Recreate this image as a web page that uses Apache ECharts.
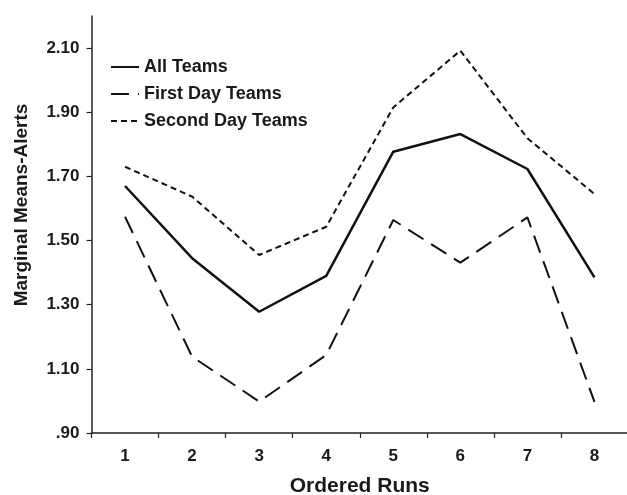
<!DOCTYPE html>
<html>
<head>
<meta charset="utf-8">
<script src="https://cdn.jsdelivr.net/npm/echarts@6/dist/echarts.min.js"></script>
<style>
html,body{margin:0;padding:0;background:#fff;}
#chart{width:627px;height:495px;}
</style>
</head>
<body>
<div id="chart"></div>
<script>
var categories = ['1','2','3','4','5','6','7','8'];
var allTeams = [1.67, 1.445, 1.278, 1.39, 1.777, 1.832, 1.723, 1.385];
var firstDay = [1.574, 1.138, 0.998, 1.143, 1.564, 1.431, 1.572, 0.997];
var secondDay = [1.73, 1.637, 1.455, 1.543, 1.915, 2.092, 1.819, 1.645];
var yTicks = [0.9, 1.1, 1.3, 1.5, 1.7, 1.9, 2.1];

var font = 'Liberation Sans, Arial, Helvetica, sans-serif';
var txt = '#1a1a1a';
var chart = echarts.init(document.getElementById('chart'), null, {renderer: 'canvas'});
chart.setOption({
  animation: false,
  backgroundColor: '#fff',
  grid: {left: 91.5, right: -1, top: 16, bottom: 62, containLabel: false, outerBoundsMode: 'none'},
  legend: {
    orient: 'vertical', left: 110, top: 58, padding: 0, itemWidth: 28, itemHeight: 14, itemGap: 9,
    itemStyle: {opacity: 0},
    textStyle: {fontFamily: font, fontWeight: 'bold', fontSize: 18, color: txt},
    data: ['All Teams', 'First Day Teams', 'Second Day Teams']
  },
  xAxis: {
    type: 'category', data: categories, boundaryGap: true,
    name: 'Ordered Runs', nameLocation: 'middle', nameGap: 43,
    nameTextStyle: {fontFamily: font, fontWeight: 'bold', fontSize: 21, color: txt},
    axisLine: {lineStyle: {color: '#222', width: 1.5}},
    axisTick: {show: true, length: 5, inside: false, alignWithLabel: false, lineStyle: {color: '#222', width: 1.2}},
    axisLabel: {fontFamily: font, fontWeight: 'bold', fontSize: 17, color: txt, margin: 15},
    splitLine: {show: false}
  },
  yAxis: {
    type: 'value', min: 0.9, max: 2.2,
    name: 'Marginal Means-Alerts', nameLocation: 'middle', nameGap: 60, nameRotate: 90,
    nameTextStyle: {fontFamily: font, fontWeight: 'bold', fontSize: 19, color: txt, padding: [0, 0, 0, 39]},
    axisLine: {show: true, lineStyle: {color: '#222', width: 1.5}},
    axisTick: {show: true, length: 5, customValues: yTicks, lineStyle: {color: '#222', width: 1.2}},
    axisLabel: {
      fontFamily: font, fontWeight: 'bold', fontSize: 17, color: txt, margin: 12,
      customValues: yTicks,
      formatter: function (v) { var s = v.toFixed(2); return s.charAt(0) === '0' ? s.slice(1) : s; }
    },
    splitLine: {show: false}
  },
  series: [
    {name: 'All Teams', type: 'line', data: allTeams, symbol: 'none', showSymbol: false,
     lineStyle: {color: '#111', width: 2.5, type: 'solid'}, itemStyle: {color: '#111'}},
    {name: 'First Day Teams', type: 'line', data: firstDay, symbol: 'none', showSymbol: false,
     lineStyle: {color: '#111', width: 2, type: [18, 9]}, itemStyle: {color: '#111'}},
    {name: 'Second Day Teams', type: 'line', data: secondDay, symbol: 'none', showSymbol: false,
     lineStyle: {color: '#111', width: 2, type: [6, 4]}, itemStyle: {color: '#111'}}
  ]
});
</script>
</body>
</html>
